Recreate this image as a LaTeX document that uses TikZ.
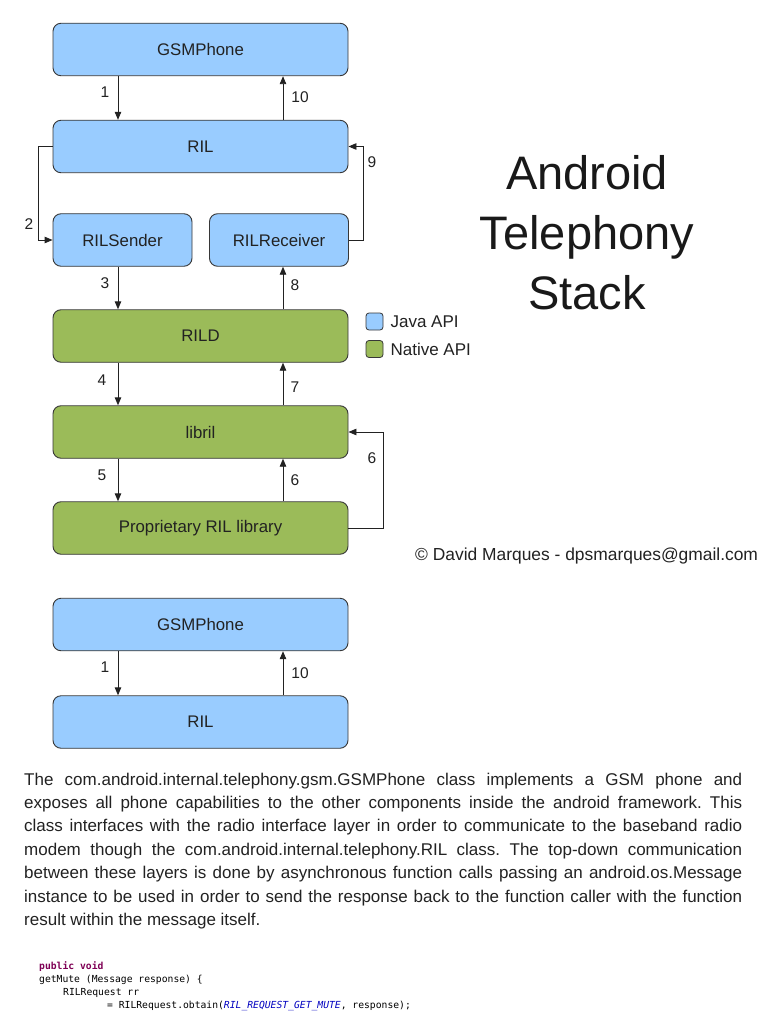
\documentclass[tikz,border=0pt]{standalone}
\usepackage{fontspec}
\setmainfont{Liberation Sans}
\newfontfamily\codefont{DejaVu Sans Mono}
\usepackage{xcolor}
\definecolor{javablue}{RGB}{153,204,255}
\definecolor{nativegreen}{RGB}{155,187,89}
\definecolor{boxline}{RGB}{55,55,55}
\definecolor{inkgray}{RGB}{34,34,34}
\definecolor{kwpurple}{RGB}{127,0,85}
\definecolor{constblue}{RGB}{0,0,192}
\usetikzlibrary{arrows.meta,positioning}
\hyphenpenalty=10000
\tolerance=9999
\frenchspacing

\begin{document}
\begin{tikzpicture}[x=1pt, y=-1pt,
  layer/.style={draw=boxline, line width=0.9pt, rounded corners=8pt, minimum height=52.5pt, text=inkgray, font=\fontsize{16.8}{20}\selectfont},
  javabox/.style={layer, fill=javablue},
  nativebox/.style={layer, fill=nativegreen},
  flow/.style={-{Triangle[length=8pt,width=6.5pt]}, line width=0.9pt, draw=inkgray},
  num/.style={font=\fontsize{15.5}{18}\selectfont, text=inkgray},
  key/.style={draw=boxline, line width=0.8pt, rounded corners=3pt, minimum size=17pt, inner sep=0pt},
  legtext/.style={inner sep=0pt, text=inkgray, font=\fontsize{17}{20}\selectfont},
  title/.style={align=center, text=black!90, font=\fontsize{47}{60}\selectfont},
  para/.style={text width=718pt, align=justify, inner sep=0pt, text=inkgray, font=\fontsize{17}{23.4}\selectfont},
  code/.style={align=left, inner sep=0pt, font=\codefont\fontsize{9.7}{13}\selectfont}]

  % Page
  \path[use as bounding box, fill=white] (0,0) rectangle (768,1024);

  % Java layers
  \node[javabox, minimum width=295pt] (gsm) at (200.5,49.5) {GSMPhone};
  \node[javabox, minimum width=295pt] (ril) at (200.5,146.5) {RIL};
  \node[javabox, minimum width=139pt] (sender) at (122.5,240) {RILSender};
  \node[javabox, minimum width=139pt] (receiver) at (279,240) {RILReceiver};

  % Native layers
  \node[nativebox, minimum width=295pt] (rild) at (200.5,336) {RILD};
  \node[nativebox, minimum width=295pt] (libril) at (200.5,432) {libril};
  \node[nativebox, minimum width=295pt] (vendor) at (200.5,528) {Proprietary RIL library};

  % Request / response columns
  \coordinate (dn) at (118,0);
  \coordinate (up) at (283,0);

  \draw[flow] (gsm.south -| dn) -- (ril.north -| dn);
  \draw[flow] (ril.north -| up) -- (gsm.south -| up);
  \draw[flow] (ril.west) -- ++(-14,0) |- (sender.west);
  \draw[flow] (receiver.east) -- ++(14,0) |- (ril.east);
  \draw[flow] (sender.south -| dn) -- (rild.north -| dn);
  \draw[flow] (rild.north -| up) -- (receiver.south -| up);
  \draw[flow] (rild.south -| dn) -- (libril.north -| dn);
  \draw[flow] (libril.north -| up) -- (rild.south -| up);
  \draw[flow] (libril.south -| dn) -- (vendor.north -| dn);
  \draw[flow] (vendor.north -| up) -- (libril.south -| up);
  \draw[flow] (vendor.east) -- ++(35,0) |- (libril.east);

  % Step numbers
  \foreach \t/\x/\y [count=\i] in {1/105/92, 10/300/97, 2/29/224, 9/372/162, 3/105/283, 8/295/285,
      4/102/380, 7/295/387, 5/102/475, 6/295/480, 6/372/458, 1/105/667, 10/300/673}
    \node[num] (tag\i) at (\x,\y) {\t};

  % Title
  \node[title] (title) at (587,233) {Android\\Telephony\\Stack};

  % Legend
  \node[key, fill=javablue] (javakey) at (374.5,321.5) {};
  \node[key, fill=nativegreen] (nativekey) at (374.5,349) {};
  \node[legtext, right=7pt of javakey] (javalabel) {Java API};
  \node[legtext, right=7pt of nativekey] (nativelabel) {Native API};

  % Credit
  \node[legtext, anchor=west, font=\fontsize{17.4}{20}\selectfont] (credit) at (415,556) {© David Marques - dpsmarques@gmail.com};

  % Detail: GSMPhone and RIL
  \node[javabox, minimum width=295pt] (gsmb) at (200.5,624.5) {GSMPhone};
  \node[javabox, minimum width=295pt] (rilb) at (200.5,722) {RIL};
  \draw[flow] (gsmb.south -| dn) -- (rilb.north -| dn);
  \draw[flow] (rilb.north -| up) -- (gsmb.south -| up);

  % Description
  \node[para, anchor=north west] (body) at (24,772.5) {The com.android.internal.telephony.gsm.GSMPhone class implements a GSM phone and\linebreak
    exposes all phone capabilities to the other components inside the android framework. This\linebreak
    class interfaces with the radio interface layer in order to communicate to the baseband radio\linebreak
    modem though the com.android.internal.telephony.RIL class. The top-down communication\linebreak
    between these layers is done by asynchronous function calls passing an android.os.Message\linebreak
    instance to be used in order to send the response back to the function caller with the function\linebreak
    result within the message itself.};

  % Code excerpt
  \node[code, anchor=north west] (snippet) at (39,961.5) {{\color{kwpurple}\bfseries public void}\\
    getMute (Message response) \{\\
    \hspace*{24pt}RILRequest rr\\
    \hspace*{68pt}= RILRequest.obtain({\color{constblue}\itshape RIL\_REQUEST\_GET\_MUTE}, response);};
\end{tikzpicture}
\end{document}
